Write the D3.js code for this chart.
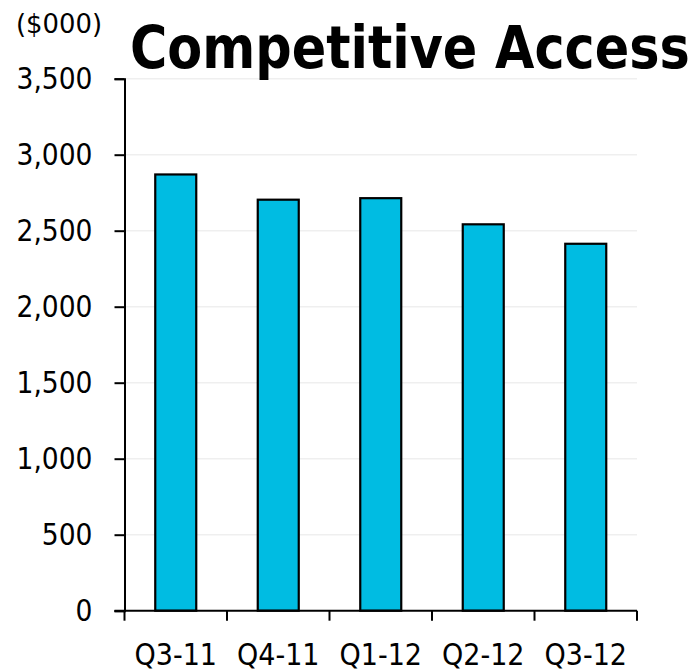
<!DOCTYPE html>
<html>
<head>
<meta charset="utf-8">
<script src="https://cdn.jsdelivr.net/npm/d3@7"></script>
<style>
  html, body { margin: 0; padding: 0; background: #fff; }
  svg { display: block; }
  text { font-family: "DejaVu Sans Condensed", "DejaVu Sans", sans-serif; fill: #000; }
</style>
</head>
<body>
<svg id="chart" width="698" height="672"></svg>
<script>
// Quarterly revenue, in thousands of dollars
const quarters = ["Q3-11", "Q4-11", "Q1-12", "Q2-12", "Q3-12"];
const revenue = [2870, 2704, 2714, 2542, 2414];
const yTicks = [0, 500, 1000, 1500, 2000, 2500, 3000, 3500];

const svg = d3.select("#chart");
const margin = { left: 124.5, right: 61, top: 78.7, bottom: 61.3 };
const W = 698, H = 672;

const x = d3.scaleBand()
  .domain(quarters)
  .range([margin.left, W - margin.right])
  .paddingInner(0.6)
  .paddingOuter(0.3);

const xTickScale = d3.scaleBand()
  .domain(quarters)
  .range([margin.left, W - margin.right]);

const y = d3.scaleLinear()
  .domain([0, 3500])
  .range([H - margin.bottom, margin.top]);

// light horizontal gridlines
svg.append("g")
  .selectAll("line")
  .data(yTicks.filter(d => d > 0))
  .join("line")
  .attr("x1", margin.left)
  .attr("x2", W - margin.right)
  .attr("y1", d => y(d))
  .attr("y2", d => y(d))
  .attr("stroke", "#efefef")
  .attr("stroke-width", 1.5);

// bars
svg.append("g")
  .selectAll("rect")
  .data(revenue)
  .join("rect")
  .attr("x", (d, i) => x(quarters[i]))
  .attr("width", x.bandwidth())
  .attr("y", d => y(d))
  .attr("height", d => y(0) - y(d))
  .attr("fill", "#00bce2")
  .attr("stroke", "#000")
  .attr("stroke-width", 2.2);

// y axis
const yAxis = d3.axisLeft(y)
  .tickValues(yTicks)
  .tickFormat(d3.format(","))
  .tickSize(10)
  .tickPadding(22);

const gy = svg.append("g")
  .attr("transform", `translate(${margin.left},0)`)
  .call(yAxis);
gy.select(".domain").attr("stroke", "#000").attr("stroke-width", 2);
gy.selectAll(".tick line").attr("stroke", "#000").attr("stroke-width", 2);
gy.selectAll(".tick text")
  .attr("font-size", 29.5)
  .attr("font-family", "\"DejaVu Sans Condensed\", \"DejaVu Sans\", sans-serif")
  .attr("fill", "#000");

// x axis with ticks between categories
const gx = svg.append("g")
  .attr("transform", `translate(0,${y(0)})`);
gx.append("line")
  .attr("x1", margin.left - 10)
  .attr("x2", W - margin.right)
  .attr("stroke", "#000")
  .attr("stroke-width", 2);
const boundaries = quarters.map(q => xTickScale(q)).concat([W - margin.right]);
gx.selectAll("line.tk")
  .data(boundaries)
  .join("line")
  .attr("class", "tk")
  .attr("x1", d => d).attr("x2", d => d)
  .attr("y1", 0).attr("y2", 10)
  .attr("stroke", "#000")
  .attr("stroke-width", 2);
gx.selectAll("text")
  .data(quarters)
  .join("text")
  .attr("x", d => xTickScale(d) + xTickScale.bandwidth() / 2)
  .attr("y", 54.5)
  .attr("text-anchor", "middle")
  .attr("font-size", 30)
  .text(d => d);

// unit label
svg.append("text")
  .attr("x", 16)
  .attr("y", 33)
  .attr("font-size", 26)
  .attr("textLength", 86)
  .attr("lengthAdjust", "spacingAndGlyphs")
  .text("($000)");

// title, squeezed horizontally to span its box
const titleWidth = 560;
const title = svg.append("text")
  .attr("font-size", 58)
  .attr("font-weight", "bold")
  .text("Competitive Access");
const natural = title.node().getComputedTextLength();
title.attr("transform", `translate(130,68) scale(${titleWidth / natural},1)`);
</script>
</body>
</html>
